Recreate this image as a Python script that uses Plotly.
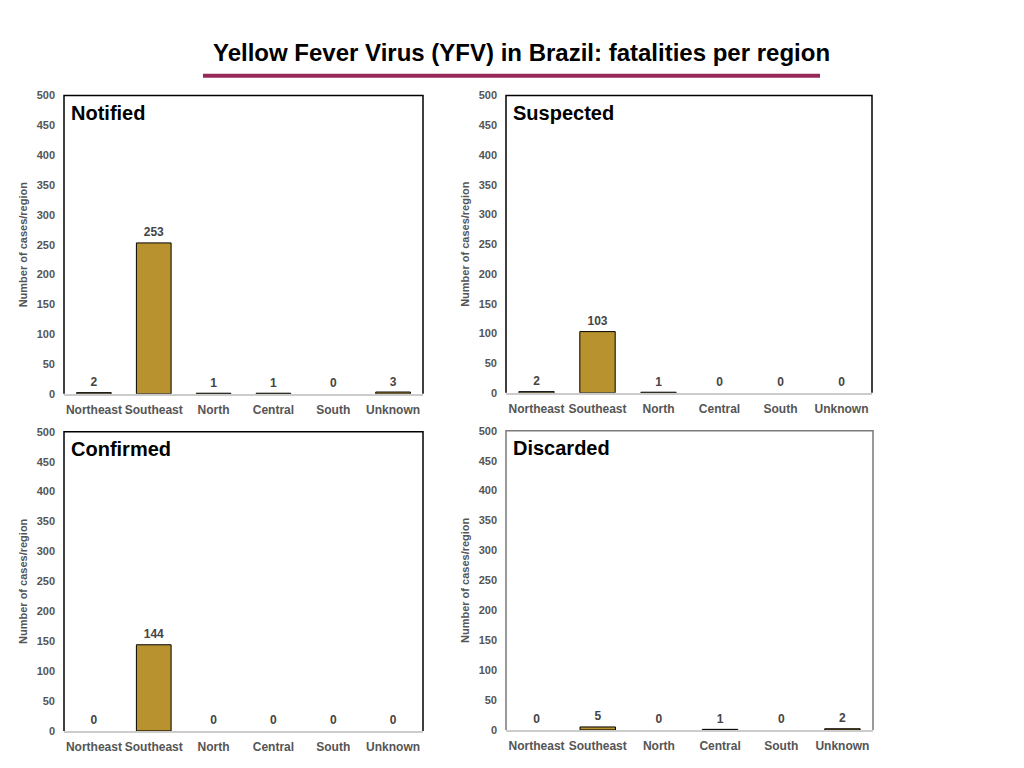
import plotly.graph_objects as go
from plotly.subplots import make_subplots

# -------- data --------
regions = ["Northeast", "Southeast", "North", "Central", "South", "Unknown"]
panel_titles = ["Notified", "Suspected", "Confirmed", "Discarded"]
notified = [2, 253, 1, 1, 0, 3]
suspected = [2, 103, 1, 0, 0, 0]
confirmed = [0, 144, 0, 0, 0, 0]
discarded = [0, 5, 0, 1, 0, 2]
y_ticks = list(range(0, 501, 50))

series = [notified, suspected, confirmed, discarded]
main_title = "Yellow Fever Virus (YFV) in Brazil: fatalities per region"
y_title = "Number of cases/region"

# -------- layout geometry (page px -> paper) --------
# page body has an 8px margin, so the figure is 16px smaller than the window
OFF = 8
W, H = 1008, 752
def px(v):
    return (v - OFF) / W
def py(v):
    v = (v - 5.3) / 0.9866   # empirical vertical correction of the render
    return 1 - (v - OFF) / H

boxes = [  # x0, x1, ytop, ybottom in page pixels
    (64, 423, 95, 394),
    (506, 872, 95, 393),
    (64, 423, 432, 732),
    (506, 873, 431, 731),
]
border_colors = ["black", "black", "black", "#7a7a7a"]

BAR = "#B8922F"
TXT = "#555555"
FONT = "Liberation Sans, Arial, Helvetica, sans-serif"

fig = make_subplots(rows=2, cols=2)

for i, vals in enumerate(series):
    r, c = i // 2 + 1, i % 2 + 1
    fig.add_trace(go.Bar(
        x=regions, y=vals,
        # no outline on empty bars, otherwise a stray line sits on the axis
        marker=dict(color=BAR, line=dict(color="black",
                                         width=[1 if v > 0 else 0 for v in vals])),
        hoverinfo="skip", showlegend=False,
    ), row=r, col=c)
    # value labels above bars (invisible marker pushes text up a bit)
    fig.add_trace(go.Scatter(
        x=regions, y=vals, mode="markers+text",
        marker=dict(size=4, opacity=0),
        text=[str(v) for v in vals], textposition="top center",
        textfont=dict(family=FONT, size=12, color="#444444", weight="bold"),
        hoverinfo="skip", showlegend=False, cliponaxis=False,
    ), row=r, col=c)

for i, (x0, x1, yt, yb) in enumerate(boxes):
    n = "" if i == 0 else str(i + 1)
    fig.layout["xaxis" + n].update(
        domain=[px(x0), px(x1)],
        showline=True, linecolor="#cccccc", linewidth=1.5,
        ticks="", showgrid=False, zeroline=False,
        tickfont=dict(family=FONT, size=12, color=TXT, weight="bold"),
        ticklabelstandoff=4,
    )
    fig.layout["yaxis" + n].update(
        domain=[py(yb), py(yt)],
        range=[0, 500], tickvals=y_ticks,
        showline=False, ticks="", showgrid=False, zeroline=False,
        tickfont=dict(family=FONT, size=11, color=TXT, weight="bold"),
        ticklabelstandoff=8,
        title=dict(text=y_title, standoff=6,
                   font=dict(family=FONT, size=11, color=TXT, weight="bold")),
    )
    xr = "x" + n
    # panel frame: left, top and right edges
    fig.add_shape(type="path",
                  path="M 0 0 L 0 1 L 1 1 L 1 0",
                  xref=xr + " domain", yref="y" + n + " domain",
                  line=dict(color=border_colors[i], width=1.5))
    fig.add_annotation(text=panel_titles[i], showarrow=False,
                       xref=xr + " domain", yref="y" + n + " domain",
                       x=0.014, y=0.985, xanchor="left", yanchor="top",
                       font=dict(family=FONT, size=20, color="black", weight="bold"))

# title + underline
fig.add_annotation(text=main_title, showarrow=False, xref="paper", yref="paper",
                   x=px(521), y=py(52), xanchor="center", yanchor="middle",
                   font=dict(family=FONT, size=24, color="black", weight="bold"))
fig.add_shape(type="line", xref="paper", yref="paper",
              x0=px(203), x1=px(820), y0=py(75), y1=py(75),
              line=dict(color="#98285A", width=4))

fig.update_layout(
    width=W, height=H,
    margin=dict(l=0, r=0, t=0, b=0),
    paper_bgcolor="white", plot_bgcolor="white",
    bargap=0.42,
    font=dict(family=FONT),
)

fig.write_html("out.html")
